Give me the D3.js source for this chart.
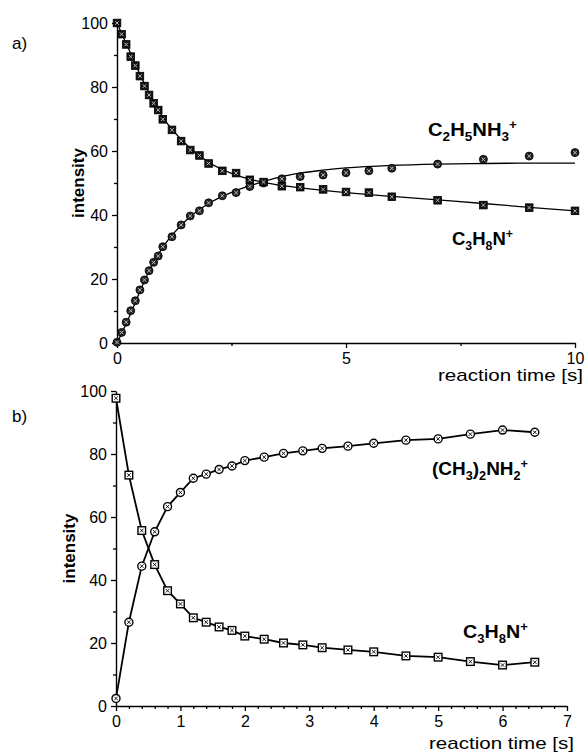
<!DOCTYPE html>
<html>
<head>
<meta charset="utf-8">
<script src="https://cdn.jsdelivr.net/npm/d3@7"></script>
<style>
  body { margin: 0; background: #fff; }
  text { font-family: "Liberation Sans", Arial, Helvetica, sans-serif; fill: #000; }
</style>
</head>
<body>
<svg id="chart"></svg>
<script>
// ---- panel a) measured points ----
const timeA = [0, 0.1, 0.2, 0.3, 0.4, 0.5, 0.6, 0.7, 0.8, 0.9, 1.0, 1.2, 1.4, 1.6, 1.8, 2.0, 2.3, 2.6, 2.9, 3.2, 3.6, 4.0, 4.5, 5.0, 5.5, 6, 7, 8, 9, 10];
const ethylA = [0.2, 3.3, 6.5, 10.1, 13.2, 16.6, 19.7, 22.6, 25.2, 27.2, 30.1, 33.2, 36.9, 39.7, 41.3, 43.8, 46.0, 47.0, 48.9, 50.0, 51.3, 52.0, 52.5, 53.2, 53.8, 54.6, 55.9, 57.4, 58.4, 59.5];
const c3h8nA = [100, 96.5, 93.3, 89.5, 86.7, 83.4, 80.3, 77.5, 74.9, 72.8, 69.9, 66.6, 63.1, 60.3, 58.6, 56.1, 53.8, 53.1, 51.0, 50.3, 49.0, 48.7, 48.0, 47.2, 47.0, 45.7, 44.6, 43.1, 42.3, 41.3];

// ---- panel a) fitted curves (read off the picture) ----
const fitTimeA = [0, 0.25, 0.5, 0.75, 1, 1.5, 2, 2.5, 3, 3.5, 4, 4.5, 5, 6, 7, 8, 9, 10];
const ethylFitA = [0, 7.6, 16.1, 24.0, 29.9, 38.2, 43.6, 47.1, 49.6, 51.7, 53.1, 54.0, 54.7, 55.5, 55.9, 56.1, 56.2, 56.2];
const c3h8nFitA = [100, 92.0, 84.0, 76.8, 70.6, 62.2, 56.5, 53.0, 50.8, 49.4, 48.5, 47.7, 47.0, 45.8, 44.7, 43.6, 42.4, 41.3];

// ---- panel b) measured points ----
const timeB = [0, 0.2, 0.4, 0.6, 0.8, 1.0, 1.2, 1.4, 1.6, 1.8, 2.0, 2.3, 2.6, 2.9, 3.2, 3.6, 4.0, 4.5, 5.0, 5.5, 6.0, 6.5];
const dimethylB = [2.4, 26.6, 44.4, 55.3, 63.3, 67.8, 72.3, 73.6, 75.1, 76.2, 77.9, 79.0, 80.2, 81.0, 81.8, 82.5, 83.4, 84.4, 84.8, 86.3, 87.6, 86.9];
const c3h8nB = [97.7, 73.3, 55.7, 44.9, 36.6, 32.4, 28.0, 26.6, 25.1, 24.0, 22.2, 21.2, 20.0, 19.4, 18.5, 17.8, 17.2, 15.9, 15.5, 14.1, 13.0, 13.9];

// ---- ticks ----
const yTicks = [0, 20, 40, 60, 80, 100];
const yMinor = [10, 30, 50, 70, 90];
const xTicksA = [0, 5, 10];
const xMinorA = [2.5, 7.5];
const xTicksB = [0, 1, 2, 3, 4, 5, 6, 7];
const xMinorB = d3.range(0, 7.001, 0.2).filter(v => Math.abs(v - Math.round(v)) > 0.01);

const W = 585, H = 754;
const svg = d3.select("#chart").attr("width", W).attr("height", H);

// chemical formula with sub/superscripts: 0 normal, 1 sub, 2 sup
function formula(x, y, parts, len) {
  const t = svg.append("text").attr("x", x).attr("y", y)
    .attr("font-size", 18).attr("font-weight", "bold");
  let off = 0;
  parts.forEach(([s, lvl]) => {
    const target = lvl === 1 ? 5 : lvl === 2 ? -7 : 0;
    t.append("tspan").attr("dy", target - off)
      .attr("font-size", lvl ? 12 : 18).text(s);
    off = target;
  });
  if (len) t.attr("textLength", len).attr("lengthAdjust", "spacingAndGlyphs");
}

function drawMarkers(g, xs, ys, x, y, shape, filled) {
  const m = g.append("g").selectAll("g")
    .data(xs.map((t, i) => [t, ys[i]]))
    .enter().append("g")
    .attr("transform", d => `translate(${x(d[0])},${y(d[1])})`);
  if (shape === "square") {
    m.append("rect").attr("x", -3.8).attr("y", -3.8).attr("width", 7.6).attr("height", 7.6)
      .attr("fill", filled ? "#111" : "#fff").attr("stroke", "#000").attr("stroke-width", filled ? 0.8 : 1.4);
  } else {
    m.append("circle").attr("r", 4)
      .attr("fill", filled ? "#222" : "#fff").attr("stroke", "#000").attr("stroke-width", filled ? 0.8 : 1.4);
  }
  m.append("path").attr("d", "M-1.8,-1.8L1.8,1.8M-1.8,1.8L1.8,-1.8")
    .attr("stroke", filled ? "#ccc" : "#000").attr("stroke-width", 0.9).attr("fill", "none");
}

function drawPanel(o) {
  const x = d3.scaleLinear().domain(o.xDomain).range([o.left, o.right]);
  const y = d3.scaleLinear().domain([0, 100]).range([o.bottom, o.top]);
  const g = svg.append("g");

  // minor ticks
  g.append("g").attr("transform", `translate(0,${o.bottom})`)
    .call(d3.axisBottom(x).tickValues(o.xMinor).tickSize(3).tickFormat(""))
    .call(a => a.select(".domain").remove());
  g.append("g").attr("transform", `translate(${o.left},0)`)
    .call(d3.axisLeft(y).tickValues(yMinor).tickSize(3).tickFormat(""))
    .call(a => a.select(".domain").remove());

  // major axes
  const xa = g.append("g").attr("transform", `translate(0,${o.bottom})`)
    .call(d3.axisBottom(x).tickValues(o.xTicks).tickFormat(d3.format("d"))
      .tickSize(5).tickPadding(5).tickSizeOuter(0));
  const ya = g.append("g").attr("transform", `translate(${o.left},0)`)
    .call(d3.axisLeft(y).tickValues(yTicks).tickSize(5).tickPadding(4).tickSizeOuter(0));
  [xa, ya].forEach(a => {
    a.selectAll("text").attr("font-size", 16).attr("font-family", null);
    a.selectAll("path,line").attr("stroke-width", 1.4);
  });
  g.selectAll(".tick line").attr("stroke-width", 1.3);

  // axis titles
  g.append("text").attr("transform", `translate(${o.yLabelX},${(o.top + o.bottom) / 2}) rotate(-90)`)
    .attr("text-anchor", "middle").attr("font-size", 17).attr("font-weight", "bold").text("intensity");
  g.append("text").attr("x", o.xLabelRight).attr("y", o.xLabelY)
    .attr("text-anchor", "end").attr("font-size", 17)
    .attr("textLength", 145).attr("lengthAdjust", "spacingAndGlyphs")
    .text("reaction time [s]");
  g.append("text").attr("x", 12).attr("y", o.tagY).attr("font-size", 17).text(o.tag);

  return { g, x, y };
}

// ---- panel a) ----
const pa = drawPanel({
  xDomain: [0, 10], left: 117, right: 575, top: 23, bottom: 343,
  xTicks: xTicksA, xMinor: xMinorA, yLabelX: 84, xLabelRight: 583, xLabelY: 381,
  tag: "a)", tagY: 49
});
const smooth = d3.line().curve(d3.curveMonotoneX).x(d => pa.x(d[0])).y(d => pa.y(d[1]));
[ethylFitA, c3h8nFitA].forEach(fit => {
  pa.g.append("path").attr("d", smooth(fitTimeA.map((t, i) => [t, fit[i]])))
    .attr("fill", "none").attr("stroke", "#000").attr("stroke-width", 1.3);
});
drawMarkers(pa.g, timeA, ethylA, pa.x, pa.y, "circle", true);
drawMarkers(pa.g, timeA, c3h8nA, pa.x, pa.y, "square", true);

// ---- panel b) ----
const pb = drawPanel({
  xDomain: [0, 7], left: 116, right: 567, top: 391, bottom: 706,
  xTicks: xTicksB, xMinor: xMinorB, yLabelX: 75, xLabelRight: 574, xLabelY: 749,
  tag: "b)", tagY: 422
});
const straight = d3.line().x(d => pb.x(d[0])).y(d => pb.y(d[1]));
[dimethylB, c3h8nB].forEach(s => {
  pb.g.append("path").attr("d", straight(timeB.map((t, i) => [t, s[i]])))
    .attr("fill", "none").attr("stroke", "#000").attr("stroke-width", 1.8);
});
drawMarkers(pb.g, timeB, dimethylB, pb.x, pb.y, "circle", false);
drawMarkers(pb.g, timeB, c3h8nB, pb.x, pb.y, "square", false);

// ---- species labels ----
formula(428, 136, [["C", 0], ["2", 1], ["H", 0], ["5", 1], ["NH", 0], ["3", 1], ["+", 2]], 89);
formula(452, 245, [["C", 0], ["3", 1], ["H", 0], ["8", 1], ["N", 0], ["+", 2]], 61);
formula(432, 475, [["(CH", 0], ["3", 1], [")", 0], ["2", 1], ["NH", 0], ["2", 1], ["+", 2]], 96);
formula(463, 638, [["C", 0], ["3", 1], ["H", 0], ["8", 1], ["N", 0], ["+", 2]], 65);
</script>
</body>
</html>
